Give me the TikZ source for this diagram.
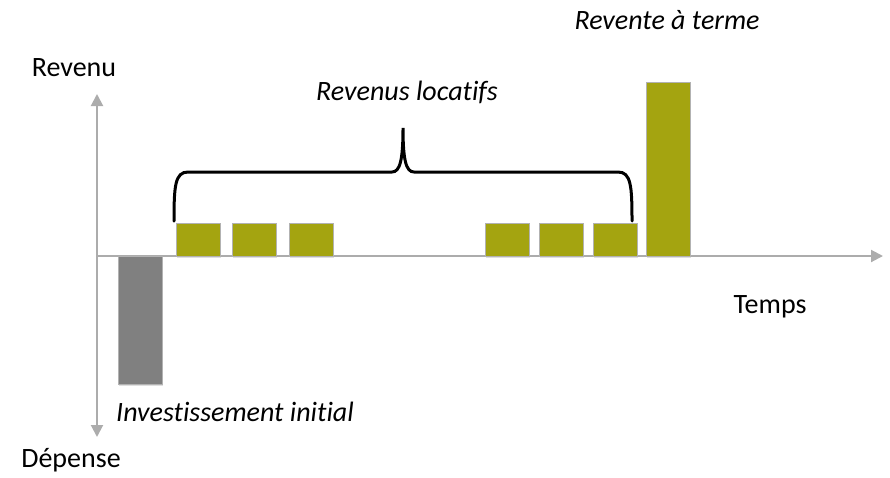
\documentclass[tikz,border=0pt]{standalone}
\usepackage{fontspec}
\setmainfont{Carlito}[Ligatures=NoCommon]
\usepackage{tikz}
\usetikzlibrary{arrows.meta,shadows}

\definecolor{olive}{RGB}{164,164,16}
\definecolor{axisgray}{RGB}{172,172,172}

\begin{document}
\begin{tikzpicture}[x=1pt,y=-1pt,
	axis/.style={draw=axisgray, line width=2pt, -{Triangle[length=12pt,width=12pt]}},
	bar/.style={draw=black!30, line width=0.6pt, drop shadow={opacity=0.25,shadow xshift=1pt,shadow yshift=-2pt}},
	brace/.style={draw=black, line width=3pt, line cap=round},
	lbl/.style={font=\fontsize{28}{33}\selectfont, inner sep=0pt, anchor=base}]
			\useasboundingbox (0,0) rectangle (890,477);

			\coordinate (o)   at (97,256);
			\coordinate (top) at (97,94);
			\coordinate (bot) at (97,437);
			\coordinate (end) at (883,256);

			\draw[axis] (o) -- (top);
			\draw[axis] (o) -- (bot);
			\draw[axis] (o) -- (end);

			% investissement (depense) et revente
			\path[bar, fill=black!50] (118,256) rectangle (162,384);
			\path[bar, fill=olive] (646,82) rectangle (690,256);

			% loyers
			\foreach \xa in {176,232,289,485,539,593}
				\path[bar, fill=olive] (\xa,223) rectangle ++(44,33);

			% accolade au-dessus des loyers
			\draw[brace] (174,221) .. controls (174,186) and (175,172) .. (188,172)
				-- (392,172) .. controls (400,172) and (403,160) .. (403,128)
				.. controls (403,160) and (406,172) .. (414,172)
				-- (618,172) .. controls (631,172) and (632,186) .. (632,221);

			\node[lbl] (revenu)   at (74,76)   {Revenu};
			\node[lbl] (depense)  at (71,467)  {Dépense};
			\node[lbl] (temps)    at (770,313) {Temps};
			\node[lbl] (revente)  at (667,29)  {\itshape Revente à terme};
			\node[lbl] (locatifs) at (407,100) {\itshape Revenus locatifs};
			\node[lbl, anchor=base west] (invest) at (116,421) {\itshape Investissement initial};
		\end{tikzpicture}
\end{document}
